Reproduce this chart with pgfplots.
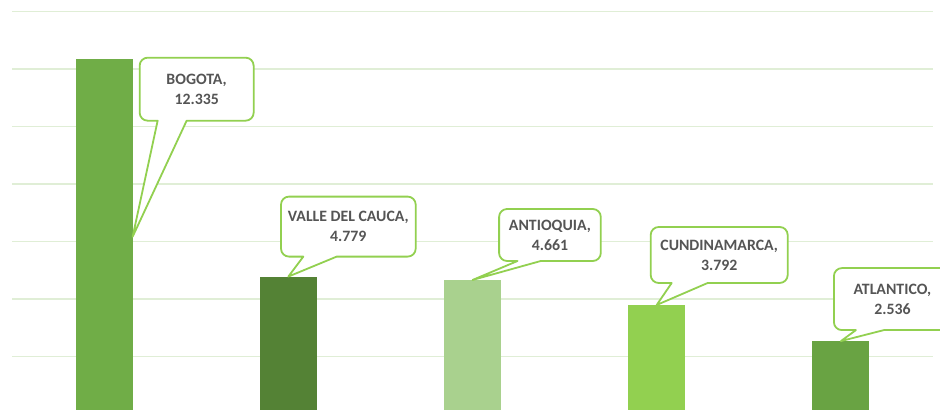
\documentclass[border=0pt]{standalone}
\usepackage{pgfplots}
\pgfplotsset{compat=1.18}
\usepackage{fontspec}
\setmainfont{Carlito}
\definecolor{cBog}{HTML}{70AD47}
\definecolor{cVal}{HTML}{548235}
\definecolor{cAnt}{HTML}{A9D18E}
\definecolor{cCun}{HTML}{92D050}
\definecolor{cAtl}{HTML}{69A343}
\definecolor{cgreen}{HTML}{92D050}
\definecolor{cgrid}{HTML}{E0EED6}
\definecolor{ctext}{HTML}{555555}
% #1 tip coordinate, #2 left, #3 right, #4 bottom, #5 top, #6 base x1, #7 base x2, #8 text
\newcommand\callout[8]{%
  \begin{scope}[shift={(#1)}, x=1pt, y=1pt]
  \filldraw[fill=white, draw=cgreen, line width=1.8pt, line join=round]
    (#6,#4) -- ({#2+8},#4) arc[start angle=270,end angle=180,radius=8pt]
    -- (#2,{#5-8}) arc[start angle=180,end angle=90,radius=8pt]
    -- ({#3-8},#5) arc[start angle=90,end angle=0,radius=8pt]
    -- (#3,{#4+8}) arc[start angle=0,end angle=-90,radius=8pt]
    -- (#7,#4) -- (0,0) -- cycle;
  \node[text=ctext, font=\fontsize{15.8}{20}\selectfont\bfseries, align=center, inner sep=0pt]
    at ({(#2+#3)/2},{(#4+#5)/2}) {#8};
  \end{scope}}
\begin{document}
\begin{tikzpicture}
\useasboundingbox (0,0) rectangle (940pt,410pt);
\begin{axis}[
  at={(12pt,0pt)}, anchor=south west,
  scale only axis, width=921pt, height=410pt,
  xmin=-0.5, xmax=4.5, ymin=0.139, ymax=14.400,
  axis line style={draw=none},
  xtick=\empty,
  ytick={0,2,...,14}, yticklabels={},
  major tick length=0pt,
  ymajorgrids, grid style={color=cgrid, line width=1.8pt},
]
\addplot[ybar, bar width=57pt, bar shift=0pt, fill=cBog, draw=none] coordinates {(0,12.335)};
\addplot[ybar, bar width=57pt, bar shift=0pt, fill=cVal, draw=none] coordinates {(1,4.779)};
\addplot[ybar, bar width=57pt, bar shift=0pt, fill=cAnt, draw=none] coordinates {(2,4.661)};
\addplot[ybar, bar width=57pt, bar shift=0pt, fill=cCun, draw=none] coordinates {(3,3.792)};
\addplot[ybar, bar width=57pt, bar shift=0pt, fill=cAtl, draw=none] coordinates {(4,2.536)};
\coordinate (T0) at (axis cs:0.155,6.1675);
\coordinate (T1) at (axis cs:1,4.779);
\coordinate (T2) at (axis cs:2,4.661);
\coordinate (T3) at (axis cs:3,3.792);
\coordinate (T4) at (axis cs:4,2.536);
\end{axis}
\callout{T0}{7}{121}{116}{179}{25}{54}{BOGOTA,\\12.335}
\callout{T1}{-7.3}{127.4}{20}{80}{15}{48.4}{VALLE DEL CAUCA,\\4.779}
\callout{T2}{26.6}{128.3}{19}{71}{45}{68.3}{ANTIOQUIA,\\4.661}
\callout{T3}{-6}{131}{22}{78}{15}{51}{CUNDINAMARCA,\\3.792}
\callout{T4}{-7}{110}{11}{73}{15}{43}{ATLANTICO,\\2.536}
\end{tikzpicture}
\end{document}
